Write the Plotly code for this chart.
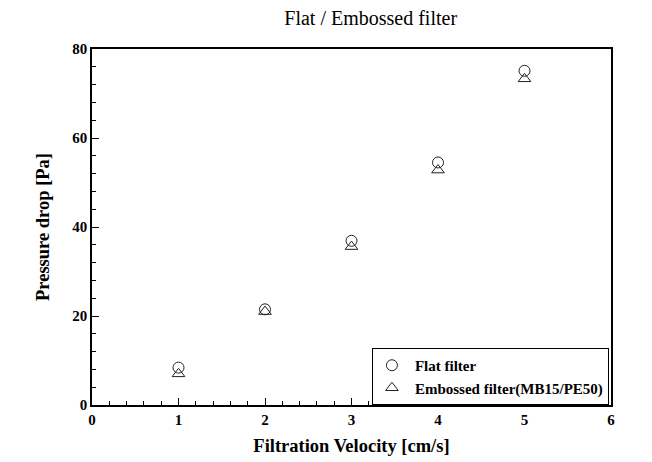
import plotly.graph_objects as go

velocity = [1, 2, 3, 4, 5]
flat_dp = [8.4, 21.5, 36.9, 54.5, 75.1]
embossed_dp = [7.0, 21.0, 35.6, 52.8, 73.3]
x_ticks = [0, 1, 2, 3, 4, 5, 6]
y_ticks = [0, 20, 40, 60, 80]

FONT = "Liberation Serif"

fig = go.Figure()
fig.add_trace(go.Scatter(
    x=velocity, y=flat_dp, mode="markers", name="<b>Flat filter</b>",
    marker=dict(symbol="circle-open", size=11, color="#222", line=dict(width=1, color="#222")),
))
fig.add_trace(go.Scatter(
    x=velocity, y=embossed_dp, mode="markers", name="<b>Embossed filter(MB15/PE50)</b>",
    marker=dict(symbol="triangle-up-open", size=11, color="#222", line=dict(width=1, color="#222")),
))

axis_common = dict(
    showgrid=False, zeroline=False, showline=True, linecolor="black", linewidth=1.5,
    mirror=True, ticks="inside", ticklen=7, tickcolor="black", tickwidth=1,
    tickfont=dict(family=FONT, size=15, color="black"), automargin=False,
)
fig.update_xaxes(
    range=[0, 6], tickvals=x_ticks, ticktext=[f"<b>{v}</b>" for v in x_ticks],
    minor=dict(dtick=0.2, ticks="inside", ticklen=4, tickcolor="black"),
    title=dict(text="<b>Filtration Velocity [cm/s]</b>", font=dict(family=FONT, size=18.5, color="black"), standoff=12),
    **axis_common,
)
fig.update_yaxes(
    range=[0, 80], tickvals=y_ticks, ticktext=[f"<b>{v}</b>" for v in y_ticks],
    minor=dict(dtick=4, ticks="inside", ticklen=4, tickcolor="black"),
    title=dict(text="<b>Pressure drop [Pa]</b>", font=dict(family=FONT, size=18.5, color="black"), standoff=18),
    **axis_common,
)
fig.update_layout(
    width=652, height=462,
    margin=dict(l=92, r=41, t=49, b=57),
    paper_bgcolor="white", plot_bgcolor="white",
    title=dict(text="Flat / Embossed filter", x=0.537, xanchor="center", xref="paper", y=0.962, yanchor="middle",
               font=dict(family=FONT, size=20, color="black")),
    legend=dict(x=0.996, xanchor="right", y=0, yanchor="bottom", bgcolor="white",
                bordercolor="black", borderwidth=1, font=dict(family=FONT, size=15, color="black"),
                itemwidth=36, tracegroupgap=0, indentation=-4),
    showlegend=True,
)
fig.write_html("out.html")
